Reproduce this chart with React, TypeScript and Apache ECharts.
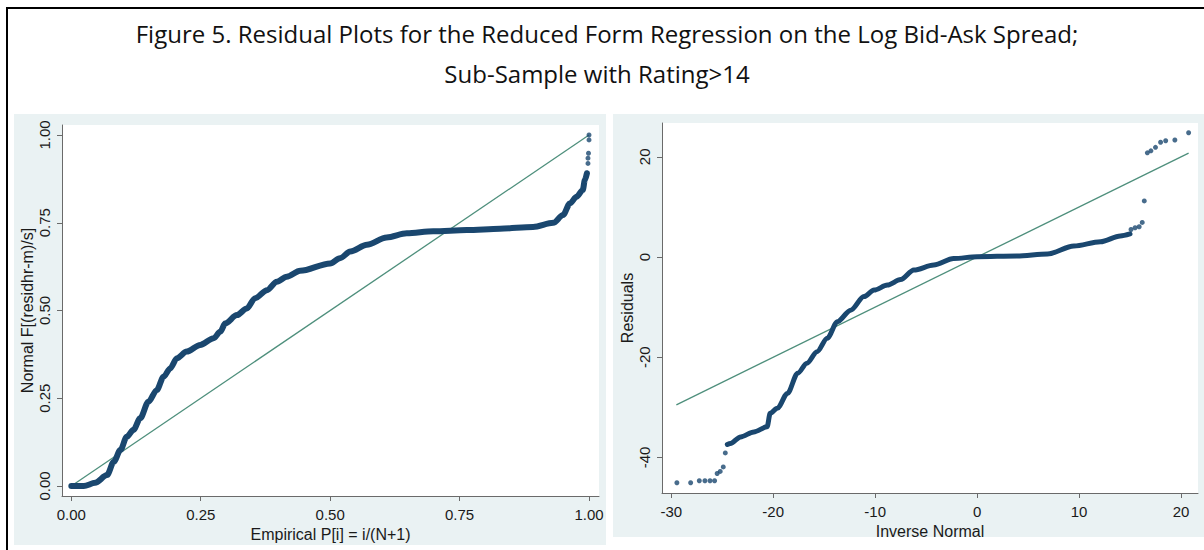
import React, { useEffect, useRef } from "react";
import * as echarts from "echarts";

const titleLine1 = "Figure 5. Residual Plots for the Reduced Form Regression on the Log Bid-Ask Spread;";
const titleLine2 = "Sub-Sample with Rating>14";

// Left panel: standardized normal probability plot
const pnormCurveP = [0, 0.024, 0.046, 0.069, 0.082, 0.095, 0.107, 0.12, 0.133, 0.149, 0.165, 0.178, 0.191, 0.204, 0.223, 0.249, 0.275, 0.288, 0.297, 0.32, 0.339, 0.355, 0.378, 0.397, 0.416, 0.442, 0.5, 0.519, 0.539, 0.571, 0.609, 0.648, 0.699, 0.764, 0.828, 0.892, 0.931, 0.95, 0.963, 0.976, 0.988, 0.992, 0.996];
const pnormCurveF = [0, 0, 0.009, 0.031, 0.069, 0.103, 0.14, 0.16, 0.193, 0.24, 0.273, 0.311, 0.335, 0.364, 0.383, 0.402, 0.421, 0.44, 0.463, 0.487, 0.506, 0.535, 0.558, 0.582, 0.596, 0.613, 0.634, 0.649, 0.668, 0.687, 0.708, 0.72, 0.726, 0.729, 0.733, 0.738, 0.75, 0.772, 0.805, 0.824, 0.843, 0.872, 0.891];
const pnormTailP = [0.998, 0.998, 0.999, 1.0, 1.0];
const pnormTailF = [0.919, 0.934, 0.948, 0.986, 1.0];
const pnormRefP = [0, 1];
const pnormRefF = [0, 1];
const leftTicks = [0, 0.25, 0.5, 0.75, 1];

// Right panel: quantiles of residuals vs inverse normal
const qnormLowInv = [-29.45, -28.1, -27.25, -26.7, -26.2, -25.75, -25.5, -25.2, -24.9, -24.7];
const qnormLowRes = [-45.05, -45.05, -44.65, -44.65, -44.65, -44.65, -43.2, -42.8, -41.9, -39.1];
const qnormCurveInv = [-24.5, -24.2, -23.2, -21.9, -20.6, -20.3, -19.6, -18.6, -17.6, -16.7, -15.7, -14.7, -13.7, -12.4, -11.1, -10.1, -8.8, -7.5, -6.2, -4.25, -2.3, 0, 3.9, 6.9, 9.5, 12.1, 14.05, 15.0];
const qnormCurveRes = [-37.4, -37.2, -35.9, -34.9, -33.9, -31.2, -30.2, -27.2, -23.2, -21.2, -18.9, -16.2, -12.9, -10.6, -7.9, -6.6, -5.6, -4.5, -2.6, -1.6, -0.3, 0.06, 0.2, 0.6, 2.2, 3.05, 4.2, 4.6];
const qnormHighInv = [15.1, 15.5, 15.9, 16.2, 16.4, 16.7, 17.05, 17.5, 18.0, 18.5, 19.4, 20.75];
const qnormHighRes = [5.5, 5.85, 6.05, 6.9, 11.2, 20.8, 21.2, 21.9, 22.9, 23.2, 23.35, 24.8];
const qnormRefInv = [-29.5, 20.75];
const qnormRefRes = [-29.5, 20.75];
const rightXTicks = [-30, -20, -10, 0, 10, 20];
const rightYTicks = [-40, -20, 0, 20];

const NAVY = "#1a476f";
const REF = "#4e8f7c";
const AXIS = "#6a6a6a";
const TXT = "#1a1a1a";
const PANEL = "#eaf2f3";
const SANS = "Liberation Sans, Arial, sans-serif";

const zip = (a: number[], b: number[]) => a.map((v, i) => [v, b[i]]);

const axisCommon = (ticks: number[], fmt: (v: number) => string, isY: boolean, name: string, nameGap: number) => ({
  type: "value" as const,
  name,
  nameLocation: "middle" as const,
  nameGap,
  nameTextStyle: { fontFamily: SANS, fontSize: 16, color: TXT },
  axisLine: { show: true, onZero: false, lineStyle: { color: AXIS, width: 1 } },
  axisTick: { show: true, length: 5, customValues: ticks, lineStyle: { color: AXIS, width: 1 } },
  axisLabel: {
    show: true,
    customValues: ticks,
    formatter: (v: number) => fmt(v),
    fontFamily: SANS,
    fontSize: 15,
    color: TXT,
    margin: isY ? 10 : 11,
    rotate: isY ? 90 : 0,
  },
  splitLine: { show: false },
});

export default function App() {
  const ref = useRef<HTMLDivElement>(null);
  useEffect(() => {
    if (!ref.current) return;
    const chart = echarts.init(ref.current, null, { renderer: "svg" });
    const f2 = (v: number) => v.toFixed(2);
    const f0 = (v: number) => String(v);
    chart.setOption({
      animation: false,
      backgroundColor: "#ffffff",
      graphic: [
        { type: "rect", z: -5, silent: true, shape: { x: 14, y: 114, width: 592, height: 431 }, style: { fill: PANEL } },
        { type: "rect", z: -5, silent: true, shape: { x: 613, y: 114, width: 591, height: 423 }, style: { fill: PANEL } },
        { type: "rect", z: 10, silent: true, shape: { x: 6, y: 7, width: 1198, height: 2 }, style: { fill: "#000" } },
        { type: "rect", z: 10, silent: true, shape: { x: 6, y: 7, width: 2, height: 543 }, style: { fill: "#000" } },
        {
          type: "text", z: 10, x: 607, y: 33,
          style: { text: titleLine1, fontFamily: "Open Sans, sans-serif", fontSize: 24, fill: "#111", align: "center", verticalAlign: "middle" },
        },
        {
          type: "text", z: 10, x: 597, y: 73,
          style: { text: titleLine2, fontFamily: "Open Sans, sans-serif", fontSize: 24, fill: "#111", align: "center", verticalAlign: "middle" },
        },
      ],
      grid: [
        { left: 62, top: 125, width: 537, height: 371, show: true, backgroundColor: "#ffffff", borderWidth: 0 },
        { left: 662, top: 123, width: 536, height: 370, show: true, backgroundColor: "#ffffff", borderWidth: 0 },
      ],
      xAxis: [
        { gridIndex: 0, min: -0.018, max: 1.0193, ...axisCommon(leftTicks, f2, false, "Empirical P[i] = i/(N+1)", 24) },
        { gridIndex: 1, min: -30.91, max: 21.67, ...axisCommon(rightXTicks, f0, false, "Inverse Normal", 25) },
      ],
      yAxis: [
        { gridIndex: 0, min: -0.0285, max: 1.0285, ...axisCommon(leftTicks, f2, true, "Normal F[(residhr-m)/s]", 27) },
        { gridIndex: 1, min: -47.1, max: 26.75, ...axisCommon(rightYTicks, f0, true, "Residuals", 27) },
      ],
      series: [
        {
          type: "line", xAxisIndex: 0, yAxisIndex: 0, data: zip(pnormRefP, pnormRefF), showSymbol: false, symbol: "none",
          lineStyle: { color: REF, width: 1.3 }, z: 3,
        },
        {
          type: "line", xAxisIndex: 0, yAxisIndex: 0, data: zip(pnormCurveP, pnormCurveF), showSymbol: false, symbol: "none",
          smooth: 0.3, smoothMonotone: "x",
          lineStyle: { color: NAVY, width: 6, cap: "round", join: "round" }, z: 4,
        },
        {
          type: "scatter", xAxisIndex: 0, yAxisIndex: 0, data: zip(pnormTailP, pnormTailF), symbolSize: 5,
          itemStyle: { color: NAVY }, z: 4,
        },
        {
          type: "line", xAxisIndex: 1, yAxisIndex: 1, data: zip(qnormRefInv, qnormRefRes), showSymbol: false, symbol: "none",
          lineStyle: { color: REF, width: 1.3 }, z: 3,
        },
        {
          type: "line", xAxisIndex: 1, yAxisIndex: 1, data: zip(qnormCurveInv, qnormCurveRes), showSymbol: false, symbol: "none",
          smooth: 0.3, smoothMonotone: "x",
          lineStyle: { color: NAVY, width: 5, cap: "round", join: "round" }, z: 4,
        },
        {
          type: "scatter", xAxisIndex: 1, yAxisIndex: 1, data: zip(qnormLowInv, qnormLowRes), symbolSize: 5,
          itemStyle: { color: NAVY }, z: 4,
        },
        {
          type: "scatter", xAxisIndex: 1, yAxisIndex: 1, data: zip(qnormHighInv, qnormHighRes), symbolSize: 5,
          itemStyle: { color: NAVY }, z: 4,
        },
      ],
    });
    return () => chart.dispose();
  }, []);
  return (
    <div style={{ position: "absolute", left: 0, top: 0, width: 1204, height: 550, background: "#fff" }}>
      <div ref={ref} style={{ width: 1204, height: 550 }} />
    </div>
  );
}
